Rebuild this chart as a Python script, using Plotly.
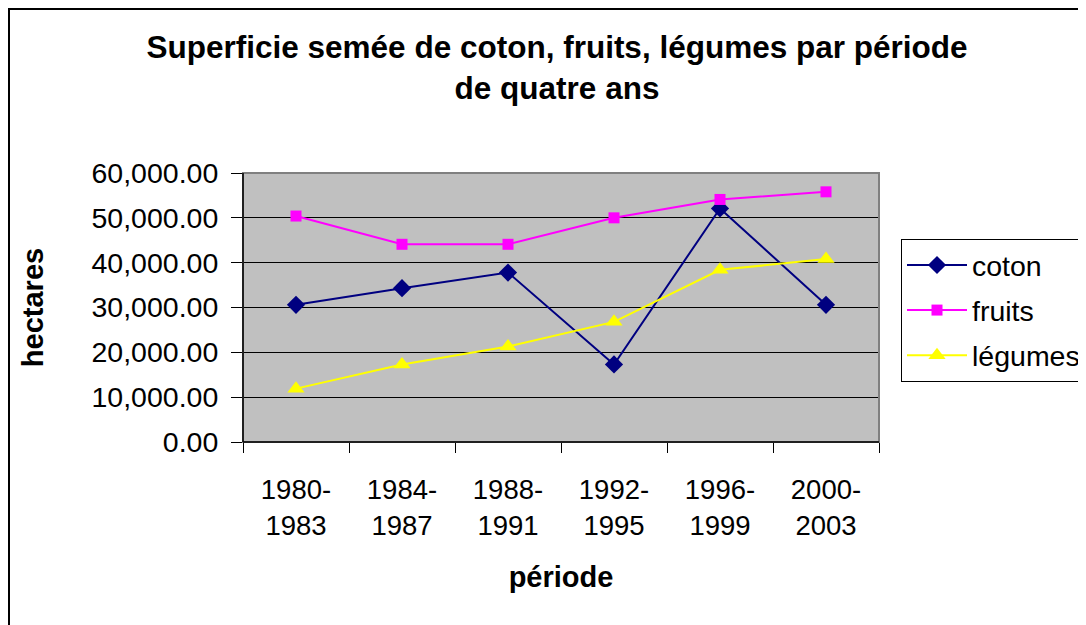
import plotly.graph_objects as go

periods = ["1980-1983", "1984-1987", "1988-1991", "1992-1995", "1996-1999", "2000-2003"]
coton = [30600, 34300, 37800, 17300, 52100, 30600]
fruits = [50400, 44100, 44100, 50000, 54100, 55800]
legumes = [11900, 17300, 21300, 26800, 38400, 40800]
y_ticks = [0, 10000, 20000, 30000, 40000, 50000, 60000]

FONT = "Liberation Sans, Arial, sans-serif"
tick_text = [p.replace("-", "-<br>") for p in periods]

fig = go.Figure()
series = [
    ("coton", coton, "#000080", "diamond", 14),
    ("fruits", fruits, "#FF00FF", "square", 11),
    ("légumes", legumes, "#FFFF00", "triangle-up", 15),
]
for name, vals, col, sym, sz in series:
    fig.add_trace(go.Scatter(
        x=periods, y=vals, name=name, mode="lines+markers",
        line=dict(color=col, width=2),
        marker=dict(symbol=sym, size=sz, color=col, line=dict(width=0)),
        legendgroup=name,
    ))

# page has an 8px body margin; figure sized to fit the 1086x625 window
W, H = 1078, 617
L, T = 235, 165
pw, ph = 636, 269
R, B = W - L - pw, H - T - ph

fig.update_layout(
    width=W, height=H,
    margin=dict(l=L, r=R, t=T, b=B, autoexpand=False),
    paper_bgcolor="white",
    plot_bgcolor="#C0C0C0",
    font=dict(family=FONT, color="black"),
    title=dict(
        text="<b>Superficie semée de coton, fruits, légumes par période<br>de quatre ans</b>",
        font=dict(size=31.5, family=FONT, color="black"),
        x=(557 - 8) / W, xanchor="center", xref="container",
        y=1 - 50 / H, yanchor="top", yref="container",
    ),
    xaxis=dict(
        type="category",
        tickmode="array", tickvals=periods, ticktext=tick_text,
        tickson="boundaries",
        ticks="outside", ticklen=10, tickcolor="black", tickwidth=1,
        ticklabelstandoff=23,
        showline=True, linecolor="black", linewidth=1,
        showgrid=False,
        tickfont=dict(size=27.5, family=FONT, color="black"),
        title=dict(text="<b>période</b>", font=dict(size=29, family=FONT, color="black"), standoff=26),
        range=[-0.5, 5.5],
    ),
    yaxis=dict(
        range=[0, 60000],
        tickmode="array", tickvals=y_ticks,
        tickformat=",.2f",
        ticks="outside", ticklen=11, tickcolor="black", tickwidth=1,
        ticklabelstandoff=7,
        showline=True, linecolor="black", linewidth=1,
        showgrid=True, gridcolor="black", gridwidth=1,
        zeroline=False,
        tickfont=dict(size=28.5, family=FONT, color="black"),
        title=dict(text="<b>hectares</b>", font=dict(size=29, family=FONT, color="black"), standoff=39),
    ),
    legend=dict(
        x=(901 - 8 - L) / pw, xanchor="left",
        y=(T + ph - (239 - 8)) / ph, yanchor="top",
        bordercolor="black", borderwidth=1, bgcolor="white",
        font=dict(size=28.5, family=FONT, color="black"),
        tracegroupgap=5,
        traceorder="grouped",
        itemwidth=60,
    ),
    showlegend=True,
)

# plot-area frame (gray top/right edges)
fig.add_shape(type="rect", xref="paper", yref="paper", x0=0, y0=0, x1=1, y1=1,
              line=dict(color="#808080", width=2), layer="above")
fig.add_shape(type="line", xref="paper", yref="paper", x0=0, y0=0, x1=0, y1=1,
              line=dict(color="black", width=1.5), layer="above")
fig.add_shape(type="line", xref="paper", yref="paper", x0=0, y0=0, x1=1, y1=0,
              line=dict(color="black", width=1.5), layer="above")
# outer chart border (left and top edges visible)
fig.add_shape(type="rect", xref="paper", yref="paper",
              x0=(1 - L) / pw, y0=-2, x1=3, y1=1 + (T - 1) / ph,
              line=dict(color="black", width=2), layer="above")

fig.write_html("out.html")
